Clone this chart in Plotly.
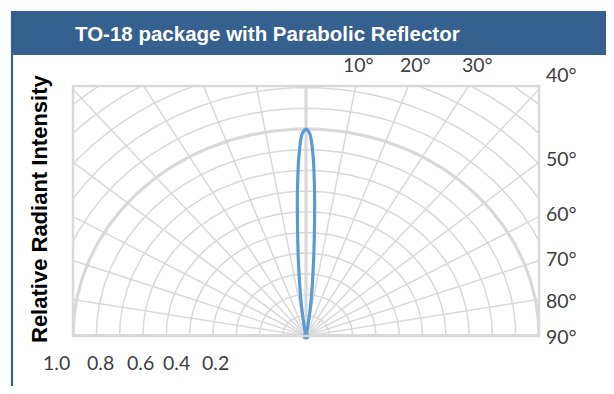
import numpy as np
import plotly.graph_objects as go

# ---- data ----
title_text = "TO-18 package with Parabolic Reflector"
y_title = "Relative Radiant Intensity"
beam_angle_deg = [-12, -10, -9, -8, -7, -6, -5, -4, -3, -2, -1, 0,
                  1, 2, 3, 4, 5, 6, 7, 8, 9, 10, 12]
rel_intensity = [0.0, 0.02, 0.06, 0.12, 0.19, 0.27, 0.38, 0.52, 0.70, 0.87, 0.975, 1.0,
                 0.975, 0.87, 0.70, 0.52, 0.38, 0.27, 0.19, 0.12, 0.06, 0.02, 0.0]
top_angle_labels = ["10°", "20°", "30°"]
side_angle_labels = ["40°", "50°", "60°", "70°", "80°", "90°"]
radius_labels = ["1.0", "0.8", "0.6", "0.4", "0.2"]
grid_rings = [round(0.1 * k, 1) for k in range(1, 17)]
grid_spokes = list(range(-80, 90, 10))

# ---- layout helpers (page has an 8px body margin, so positions are shifted) ----
OFF = 8
W, H = 614 - OFF, 394 - 2 * OFF


def PX(x):
    return (x - OFF) / W


def PY(y):
    return (H - (y - OFF)) / H


px0, px1 = 73, 539     # plot rectangle x in page pixels
py0, py1 = 86, 336     # plot rectangle y in page pixels (from top)
xr = [-1.0, 1.0]
yr = [0.0, (py1 - py0) / 207.0]

GRID = "#d9d9d9"
fig = go.Figure()

t = np.linspace(-np.pi / 2, np.pi / 2, 361)
for r in grid_rings:
    thick = abs(r - 1.0) < 1e-9
    fig.add_trace(go.Scatter(x=r * np.sin(t), y=r * np.cos(t), mode="lines",
                             line=dict(color=GRID, width=3.2 if thick else 1.5),
                             hoverinfo="skip", showlegend=False))
for a in grid_spokes:
    ar = np.radians(a)
    fig.add_trace(go.Scatter(x=[0, 3 * np.sin(ar)], y=[0, 3 * np.cos(ar)], mode="lines",
                             line=dict(color=GRID, width=3.2 if a == 0 else 1.5),
                             hoverinfo="skip", showlegend=False))
# baseline
fig.add_trace(go.Scatter(x=[-1, 1], y=[0, 0], mode="lines",
                         line=dict(color=GRID, width=4), hoverinfo="skip", showlegend=False))

th = np.radians(beam_angle_deg)
rr = np.array(rel_intensity)
fig.add_trace(go.Scatter(x=rr * np.sin(th), y=rr * np.cos(th), mode="lines",
                         line=dict(color="#5b9bd5", width=3.2, shape="spline", smoothing=0.8),
                         showlegend=False, cliponaxis=False))
fig.add_trace(go.Scatter(x=[rr[0] * np.sin(th[0])], y=[rr[0] * np.cos(th[0])], mode="markers",
                         marker=dict(color="#5b9bd5", size=7), showlegend=False,
                         cliponaxis=False, hoverinfo="skip"))

fig.update_xaxes(range=xr, domain=[PX(px0), PX(px1)], visible=False, fixedrange=True)
fig.update_yaxes(range=yr, domain=[PY(py1), PY(py0)], visible=False, fixedrange=True)

shapes = [
    dict(type="rect", xref="paper", yref="paper", x0=PX(px0), x1=PX(px1),
         y0=PY(py1), y1=PY(py0), line=dict(color=GRID, width=2.5)),
    dict(type="rect", xref="paper", yref="paper", x0=PX(11), x1=1.0,
         y0=PY(55), y1=PY(11), line=dict(width=0), fillcolor="#36608f", layer="below"),
    dict(type="line", xref="paper", yref="paper", x0=PX(12), x1=PX(12),
         y0=0, y1=PY(11), line=dict(color="#36608f", width=2.2)),
]

LBL = dict(family="Lato, Carlito, sans-serif", size=19.5, color="#404040")
ann = [
    dict(text="<b>" + title_text + "</b>", x=PX(267), y=PY(33), xref="paper", yref="paper",
         showarrow=False, font=dict(family="Liberation Sans, Arial, sans-serif", size=20.5, color="white"),
         xanchor="center", yanchor="middle"),
    dict(text="<b>" + y_title + "</b>", x=PX(39), y=PY(209), xref="paper", yref="paper",
         showarrow=False, textangle=-90,
         font=dict(family="Liberation Sans, Arial, sans-serif", size=22, color="black"),
         xanchor="center", yanchor="middle"),
]
top_x = [358, 415, 477]
for lab, xp in zip(top_angle_labels, top_x):
    ann.append(dict(text=lab, x=PX(xp), y=PY(64), xref="paper", yref="paper",
                    showarrow=False, font=LBL, xanchor="center", yanchor="middle"))
side_y = [75, 158, 213, 258, 300, 336]
for lab, yp in zip(side_angle_labels, side_y):
    ann.append(dict(text=lab, x=PX(544), y=PY(yp), xref="paper", yref="paper",
                    showarrow=False, font=LBL, xanchor="left", yanchor="middle"))
rad_x = [57, 100, 140, 176, 215]
for lab, xp in zip(radius_labels, rad_x):
    ann.append(dict(text=lab, x=PX(xp), y=PY(362), xref="paper", yref="paper",
                    showarrow=False, font=LBL, xanchor="center", yanchor="middle"))

fig.update_layout(width=W, height=H, margin=dict(l=0, r=0, t=0, b=0),
                  paper_bgcolor="white", plot_bgcolor="white",
                  shapes=shapes, annotations=ann, showlegend=False)

fig.write_html("out.html")
